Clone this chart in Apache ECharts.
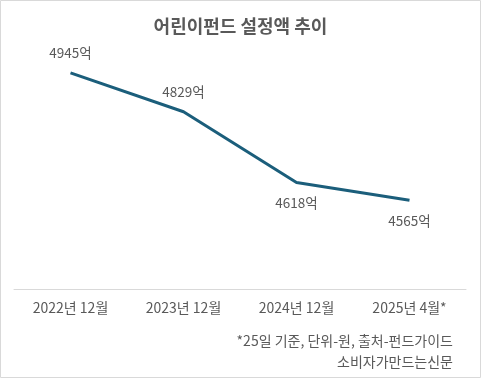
<!DOCTYPE html>
<html><head><meta charset="utf-8">
<script src="https://cdn.jsdelivr.net/npm/echarts@6/dist/echarts.min.js"></script>
<style>html,body{margin:0;padding:0;background:#fff;}#c{width:481px;height:379px;}</style>
</head><body><div id="c"></div>
<script>
const categories = ['2022년 12월', '2023년 12월', '2024년 12월', '2025년 4월*'];
const values = [4945, 4829, 4618, 4565];
const labelPositions = ['top', 'top', 'bottom', 'bottom'];
const titleText = '어린이펀드 설정액 추이';
const noteLines = ['*25일 기준, 단위-원, 출처-펀드가이드', '소비자가만드는신문'];

const FONT = '"Noto Sans CJK KR", "Noto Sans", sans-serif';
const chart = echarts.init(document.getElementById('c'), null, {renderer: 'canvas'});
chart.setOption({
  animation: false,
  textStyle: {fontFamily: FONT},
  title: {
    text: titleText, left: 'center', top: 12,
    textStyle: {fontFamily: FONT, fontSize: 18, fontWeight: 'bold', color: '#595959'}
  },
  grid: {left: 14, right: 15, top: 54.5, bottom: 90, containLabel: false},
  xAxis: {
    type: 'category', data: categories, boundaryGap: true,
    axisLine: {lineStyle: {color: '#d9d9d9', width: 1}},
    axisTick: {show: false},
    axisLabel: {color: '#595959', fontSize: 14, fontFamily: FONT, margin: 12}
  },
  yAxis: {type: 'value', min: 4300, max: 5000, show: false, splitLine: {show: false}},
  series: [{
    type: 'line',
    data: values.map((v, i) => ({value: v, label: {show: true, position: labelPositions[i],
      distance: labelPositions[i] === 'top' ? 12 : 13}})),
    symbol: 'circle', symbolSize: 2, showSymbol: true,
    itemStyle: {color: 'rgba(0,0,0,0)'},
    lineStyle: {color: '#1b5e7b', width: 3},
    label: {show: true, color: '#595959', fontSize: 13.5, fontFamily: FONT,
      formatter: p => p.value + '억'},
    z: 3
  }],
  graphic: [
    {type: 'rect', shape: {x: 0.5, y: 0.5, width: 480, height: 377}, style: {fill: 'none', stroke: '#d9d9d9', lineWidth: 1}, silent: true},
    {type: 'text', right: 28, top: 334, style: {text: noteLines[0], font: '14px ' + FONT, fill: '#595959', textAlign: 'right'}},
    {type: 'text', right: 28, top: 355, style: {text: noteLines[1], font: '14px ' + FONT, fill: '#595959', textAlign: 'right'}}
  ]
});
</script></body></html>
